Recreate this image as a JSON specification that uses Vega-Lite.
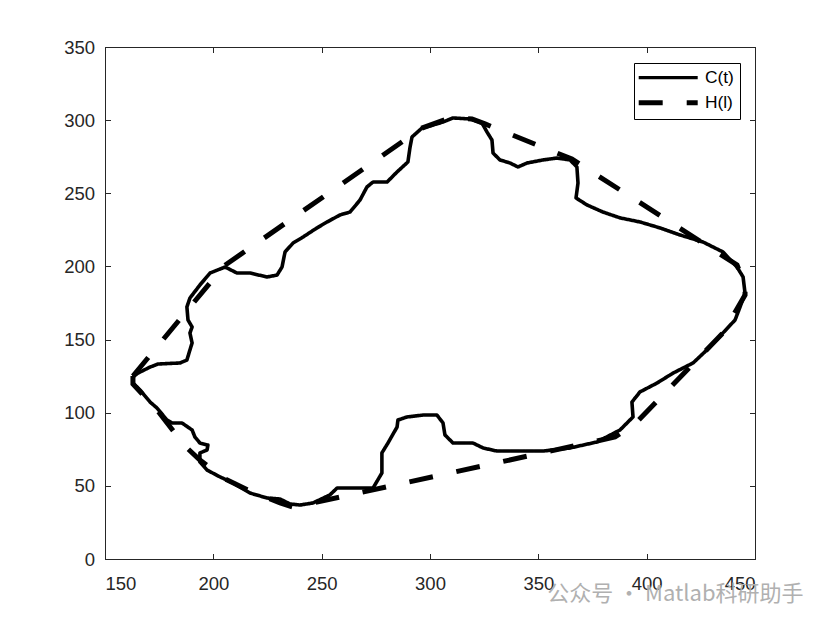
{
  "$schema": "https://vega.github.io/schema/vega-lite/v6.json",
  "autosize": {"type": "none"},
  "width": 650,
  "height": 512,
  "padding": {"left": 105, "top": 47, "right": 74, "bottom": 66},
  "background": "white",
  "title": {"text": "公众号 · Matlab科研助手", "orient": "bottom", "anchor": "end", "font": "Noto Sans CJK SC", "fontSize": 22, "fontWeight": "normal", "color": "#b0b0b0", "dx": 48, "dy": -9, "offset": 0},
  "config": {
    "view": {"stroke": "#262626", "strokeWidth": 1},
    "axis": {"grid": false, "domainColor": "#262626", "tickColor": "#262626", "labelColor": "#262626", "labelFont": "Liberation Sans", "labelFontSize": 18.5, "tickSize": -5.5, "title": null},
    "legend": {"orient": "none", "legendX": 529, "legendY": 16, "strokeColor": "black", "fillColor": "white", "padding": 6, "symbolType": "stroke", "symbolSize": 3481, "symbolOffset": 19.5, "symbolStrokeColor": "black", "labelFont": "Liberation Sans", "labelFontSize": 17.4, "labelColor": "black", "labelOffset": 28, "rowPadding": 5, "title": null, "cornerRadius": 0}
  },
  "datasets": {
    "contour": [
      {"i":1,"x":162.9,"y":124.4,"series":"C(t)"},{"i":2,"x":165.2,"y":127.1,"series":"C(t)"},{"i":3,"x":170.8,"y":131.2,"series":"C(t)"},{"i":4,"x":174.5,"y":133.3,"series":"C(t)"},{"i":5,"x":184.6,"y":134.0,"series":"C(t)"},{"i":6,"x":187.8,"y":136.0,"series":"C(t)"},{"i":7,"x":189.2,"y":142.9,"series":"C(t)"},{"i":8,"x":190.2,"y":147.7,"series":"C(t)"},{"i":9,"x":189.2,"y":154.5,"series":"C(t)"},{"i":10,"x":190.2,"y":158.6,"series":"C(t)"},
      {"i":11,"x":188.3,"y":163.4,"series":"C(t)"},{"i":12,"x":187.8,"y":172.3,"series":"C(t)"},{"i":13,"x":189.2,"y":178.4,"series":"C(t)"},{"i":14,"x":193.8,"y":187.3,"series":"C(t)"},{"i":15,"x":198.5,"y":195.5,"series":"C(t)"},{"i":16,"x":205.4,"y":199.6,"series":"C(t)"},{"i":17,"x":210.9,"y":195.5,"series":"C(t)"},{"i":18,"x":216.9,"y":195.5,"series":"C(t)"},{"i":19,"x":224.8,"y":192.8,"series":"C(t)"},{"i":20,"x":229.4,"y":194.1,"series":"C(t)"},
      {"i":21,"x":231.7,"y":199.6,"series":"C(t)"},{"i":22,"x":233.1,"y":209.9,"series":"C(t)"},{"i":23,"x":236.8,"y":216.0,"series":"C(t)"},{"i":24,"x":241.4,"y":220.1,"series":"C(t)"},{"i":25,"x":247.8,"y":226.3,"series":"C(t)"},{"i":26,"x":252.5,"y":230.4,"series":"C(t)"},{"i":27,"x":258.5,"y":235.2,"series":"C(t)"},{"i":28,"x":263.1,"y":237.2,"series":"C(t)"},{"i":29,"x":267.7,"y":245.4,"series":"C(t)"},{"i":30,"x":270.9,"y":254.3,"series":"C(t)"},
      {"i":31,"x":273.7,"y":257.7,"series":"C(t)"},{"i":32,"x":280.2,"y":257.7,"series":"C(t)"},{"i":33,"x":284.8,"y":264.6,"series":"C(t)"},{"i":34,"x":289.8,"y":271.4,"series":"C(t)"},{"i":35,"x":290.8,"y":281.6,"series":"C(t)"},{"i":36,"x":291.7,"y":288.5,"series":"C(t)"},{"i":37,"x":296.3,"y":294.6,"series":"C(t)"},{"i":38,"x":301.4,"y":296.7,"series":"C(t)"},{"i":39,"x":306.0,"y":298.7,"series":"C(t)"},{"i":40,"x":310.6,"y":301.5,"series":"C(t)"},
      {"i":41,"x":318.5,"y":300.8,"series":"C(t)"},{"i":42,"x":324.0,"y":298.0,"series":"C(t)"},{"i":43,"x":326.3,"y":291.9,"series":"C(t)"},{"i":44,"x":328.6,"y":286.4,"series":"C(t)"},{"i":45,"x":329.1,"y":277.5,"series":"C(t)"},{"i":46,"x":332.3,"y":272.8,"series":"C(t)"},{"i":47,"x":336.9,"y":270.7,"series":"C(t)"},{"i":48,"x":340.6,"y":268.0,"series":"C(t)"},{"i":49,"x":344.8,"y":270.7,"series":"C(t)"},{"i":50,"x":352.2,"y":272.8,"series":"C(t)"},
      {"i":51,"x":358.6,"y":274.1,"series":"C(t)"},{"i":52,"x":364.6,"y":272.8,"series":"C(t)"},{"i":53,"x":367.8,"y":268.0,"series":"C(t)"},{"i":54,"x":368.3,"y":257.0,"series":"C(t)"},{"i":55,"x":367.4,"y":246.8,"series":"C(t)"},{"i":56,"x":372.5,"y":242.0,"series":"C(t)"},{"i":57,"x":379.8,"y":237.2,"series":"C(t)"},{"i":58,"x":387.7,"y":233.2,"series":"C(t)"},{"i":59,"x":396.9,"y":230.4,"series":"C(t)"},{"i":60,"x":406.2,"y":226.3,"series":"C(t)"},
      {"i":61,"x":415.4,"y":221.5,"series":"C(t)"},{"i":62,"x":426.0,"y":216.7,"series":"C(t)"},{"i":63,"x":435.2,"y":209.9,"series":"C(t)"},{"i":64,"x":441.7,"y":199.6,"series":"C(t)"},{"i":65,"x":444.5,"y":192.8,"series":"C(t)"},{"i":66,"x":445.4,"y":181.8,"series":"C(t)"},{"i":67,"x":443.1,"y":172.3,"series":"C(t)"},{"i":68,"x":440.8,"y":163.4,"series":"C(t)"},{"i":69,"x":435.2,"y":154.5,"series":"C(t)"},{"i":70,"x":427.8,"y":142.9,"series":"C(t)"},
      {"i":71,"x":421.4,"y":134.0,"series":"C(t)"},{"i":72,"x":412.2,"y":127.1,"series":"C(t)"},{"i":73,"x":404.8,"y":120.3,"series":"C(t)"},{"i":74,"x":396.9,"y":114.2,"series":"C(t)"},{"i":75,"x":393.2,"y":107.3,"series":"C(t)"},{"i":76,"x":393.7,"y":97.1,"series":"C(t)"},{"i":77,"x":387.7,"y":88.2,"series":"C(t)"},{"i":78,"x":377.1,"y":80.0,"series":"C(t)"},{"i":79,"x":364.6,"y":75.9,"series":"C(t)"},{"i":80,"x":352.2,"y":73.8,"series":"C(t)"},
      {"i":81,"x":330.9,"y":73.8,"series":"C(t)"},{"i":82,"x":324.5,"y":75.9,"series":"C(t)"},{"i":83,"x":319.8,"y":79.3,"series":"C(t)"},{"i":84,"x":310.6,"y":79.3,"series":"C(t)"},{"i":85,"x":306.9,"y":84.8,"series":"C(t)"},{"i":86,"x":306.0,"y":93.0,"series":"C(t)"},{"i":87,"x":303.2,"y":98.4,"series":"C(t)"},{"i":88,"x":296.8,"y":98.4,"series":"C(t)"},{"i":89,"x":289.4,"y":97.1,"series":"C(t)"},{"i":90,"x":285.2,"y":95.0,"series":"C(t)"},
      {"i":91,"x":284.8,"y":90.2,"series":"C(t)"},{"i":92,"x":280.6,"y":79.3,"series":"C(t)"},{"i":93,"x":277.8,"y":72.5,"series":"C(t)"},{"i":94,"x":277.8,"y":58.8,"series":"C(t)"},{"i":95,"x":273.7,"y":48.5,"series":"C(t)"},{"i":96,"x":257.1,"y":48.5,"series":"C(t)"},{"i":97,"x":253.8,"y":43.8,"series":"C(t)"},{"i":98,"x":246.0,"y":38.3,"series":"C(t)"},{"i":99,"x":240.0,"y":36.9,"series":"C(t)"},{"i":100,"x":235.4,"y":37.6,"series":"C(t)"},
      {"i":101,"x":230.8,"y":41.0,"series":"C(t)"},{"i":102,"x":224.8,"y":41.7,"series":"C(t)"},{"i":103,"x":216.9,"y":45.1,"series":"C(t)"},{"i":104,"x":209.1,"y":52.0,"series":"C(t)"},{"i":105,"x":203.1,"y":56.1,"series":"C(t)"},{"i":106,"x":197.1,"y":60.8,"series":"C(t)"},{"i":107,"x":193.8,"y":66.3,"series":"C(t)"},{"i":108,"x":193.8,"y":72.5,"series":"C(t)"},{"i":109,"x":197.1,"y":74.5,"series":"C(t)"},{"i":110,"x":197.5,"y":77.9,"series":"C(t)"},
      {"i":111,"x":193.8,"y":79.3,"series":"C(t)"},{"i":112,"x":191.5,"y":83.4,"series":"C(t)"},{"i":113,"x":190.2,"y":88.2,"series":"C(t)"},{"i":114,"x":185.5,"y":93.0,"series":"C(t)"},{"i":115,"x":180.9,"y":93.0,"series":"C(t)"},{"i":116,"x":178.6,"y":95.0,"series":"C(t)"},{"i":117,"x":174.0,"y":103.2,"series":"C(t)"},{"i":118,"x":170.8,"y":107.3,"series":"C(t)"},{"i":119,"x":166.2,"y":115.5,"series":"C(t)"},{"i":120,"x":162.9,"y":120.3,"series":"C(t)"},
      {"i":121,"x":162.9,"y":124.4,"series":"C(t)"}
    ],
    "hull": [
      {"i":1,"x":162.9,"y":125.1,"series":"H(l)"},{"i":2,"x":204.9,"y":200.3,"series":"H(l)"},{"i":3,"x":296.3,"y":294.6,"series":"H(l)"},{"i":4,"x":309.2,"y":301.5,"series":"H(l)"},{"i":5,"x":319.4,"y":300.8,"series":"H(l)"},{"i":6,"x":325.4,"y":297.4,"series":"H(l)"},{"i":7,"x":365.5,"y":273.4,"series":"H(l)"},{"i":8,"x":441.7,"y":201.0,"series":"H(l)"},{"i":9,"x":445.4,"y":187.3,"series":"H(l)"},{"i":10,"x":445.4,"y":180.5,"series":"H(l)"},
      {"i":11,"x":435.2,"y":154.5,"series":"H(l)"},{"i":12,"x":395.5,"y":93.7,"series":"H(l)"},{"i":13,"x":385.4,"y":83.4,"series":"H(l)"},{"i":14,"x":246.0,"y":38.3,"series":"H(l)"},{"i":15,"x":236.8,"y":35.5,"series":"H(l)"},{"i":16,"x":230.8,"y":38.3,"series":"H(l)"},{"i":17,"x":216.9,"y":46.5,"series":"H(l)"},{"i":18,"x":205.4,"y":54.7,"series":"H(l)"},{"i":19,"x":193.8,"y":67.7,"series":"H(l)"},{"i":20,"x":186.9,"y":77.2,"series":"H(l)"},
      {"i":21,"x":174.0,"y":101.9,"series":"H(l)"},{"i":22,"x":162.9,"y":119.6,"series":"H(l)"},{"i":23,"x":162.9,"y":125.1,"series":"H(l)"}
    ]
  },
  "layer": [
    {
      "data": {"name": "contour"},
      "mark": {"type": "line", "stroke": "black", "strokeWidth": 3.6, "strokeJoin": "round"},
      "encoding": {
        "x": {"field": "x", "type": "quantitative", "scale": {"domain": [150, 450], "nice": false, "zero": false}, "axis": {"orient": "bottom", "values": [150, 200, 250, 300, 350, 400, 450], "labelPadding": 21}},
        "y": {"field": "y", "type": "quantitative", "scale": {"domain": [0, 350], "nice": false, "zero": false}, "axis": {"orient": "left", "values": [0, 50, 100, 150, 200, 250, 300, 350], "labelPadding": 16}},
        "order": {"field": "i", "type": "quantitative"},
        "strokeDash": {"field": "series", "type": "nominal", "scale": {"domain": ["C(t)", "H(l)"], "range": [[1, 0], [24, 24]]}, "legend": {"encode": {"symbols": {"update": {"strokeWidth": {"signal": "datum.value === 'H(l)' ? 5 : 3.3"}}}}}}
      }
    },
    {
      "data": {"name": "hull"},
      "mark": {"type": "line", "stroke": "black", "strokeWidth": 5, "strokeCap": "butt"},
      "encoding": {
        "x": {"field": "x", "type": "quantitative", "scale": {"domain": [150, 450], "nice": false, "zero": false}, "axis": {"orient": "top", "labels": false, "values": [150, 200, 250, 300, 350, 400, 450]}},
        "y": {"field": "y", "type": "quantitative", "scale": {"domain": [0, 350], "nice": false, "zero": false}, "axis": {"orient": "right", "labels": false, "values": [0, 50, 100, 150, 200, 250, 300, 350]}},
        "order": {"field": "i", "type": "quantitative"},
        "strokeDash": {"field": "series", "type": "nominal", "scale": {"domain": ["C(t)", "H(l)"], "range": [[1, 0], [24, 24]]}}
      }
    }
  ],
  "resolve": {"axis": {"x": "independent", "y": "independent"}}
}
